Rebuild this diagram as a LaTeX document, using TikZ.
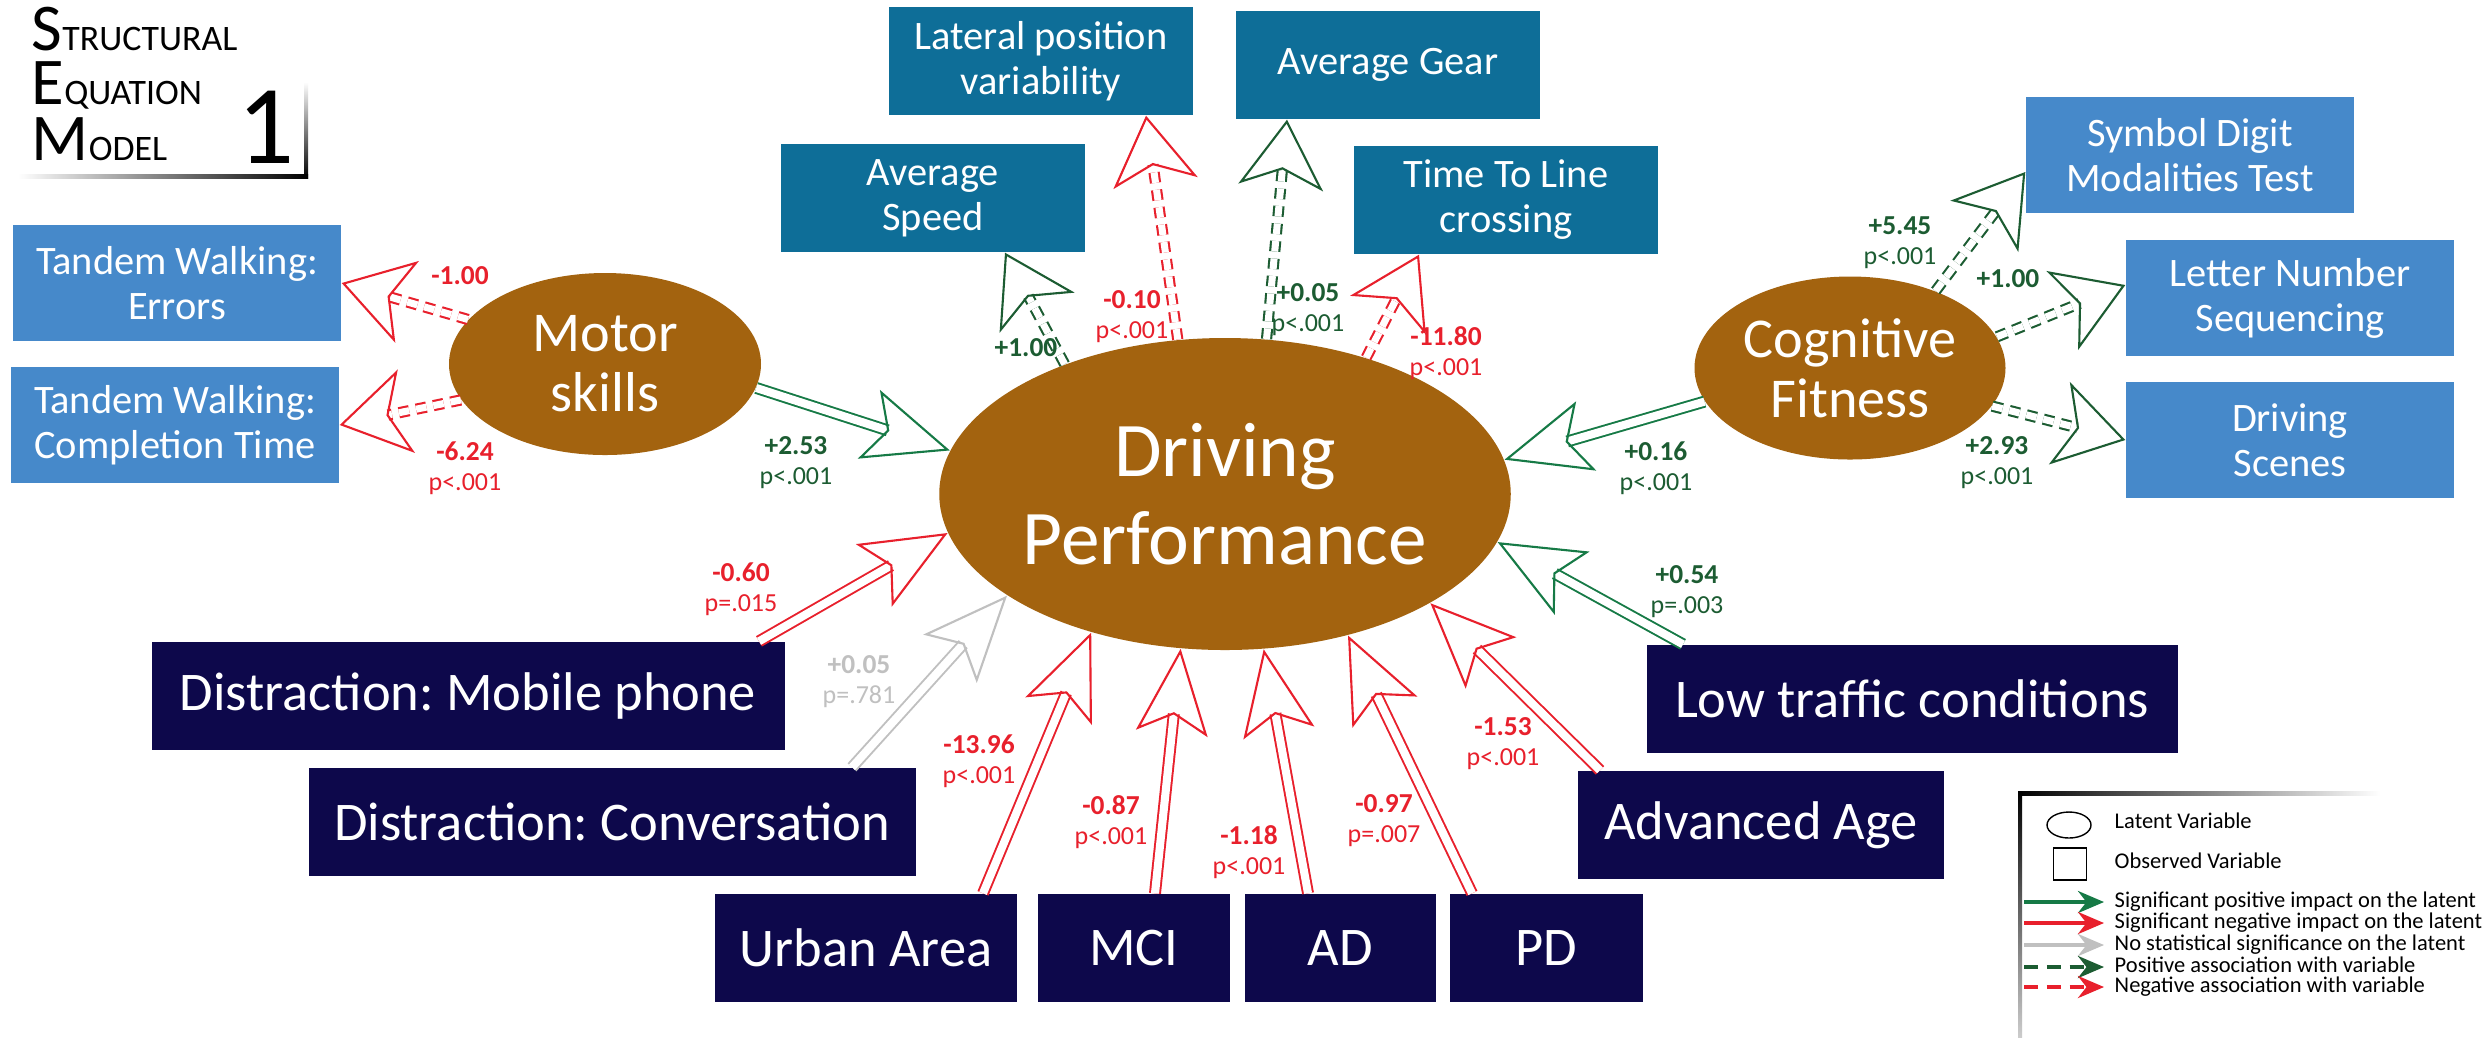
\documentclass[tikz,border=0pt]{standalone}
\usepackage{fontspec}
\setmainfont{Carlito}
\frenchspacing
\usetikzlibrary{shapes.geometric,arrows.meta}

\definecolor{latbrown}{RGB}{163,99,15}
\definecolor{obsblue}{RGB}{70,137,202}
\definecolor{obsteal}{RGB}{14,110,152}
\definecolor{obsnavy}{RGB}{13,8,75}
\definecolor{sgreen}{RGB}{22,122,70}
\definecolor{dgreen}{RGB}{28,92,50}
\definecolor{sred}{RGB}{232,32,44}
\definecolor{sgrey}{RGB}{192,192,192}

\newcommand{\cval}[2]{{\fontsize{7.8pt}{8.5pt}\selectfont\bfseries #1}\\#2}
\newcommand{\titleword}[2]{{\fontsize{19pt}{19pt}\selectfont #1}{\fontsize{10.2pt}{10pt}\selectfont #2}}

\tikzset{
  latent/.style={ellipse, fill=latbrown, text=white, inner sep=0pt, align=center,
    font=\fontsize{16pt}{17pt}\selectfont},
  obs/.style={rectangle, inner sep=0pt, text=white, align=center, minimum height=10.8mm},
  blueobs/.style={obs, fill=obsblue, minimum width=32.8mm, minimum height=11.6mm,
    font=\fontsize{11.5pt}{12.8pt}\selectfont},
  tealobs/.style={obs, fill=obsteal, minimum width=30.4mm,
    font=\fontsize{11.5pt}{12.8pt}\selectfont},
  darkobs/.style={obs, fill=obsnavy, font=\fontsize{15.5pt}{16pt}\selectfont},
  impact/.style={double=white, double distance=2.3pt, line width=.55pt,
    -{Stealth[open, length=8.5mm, width=7.2mm, inset=1.9mm, line width=.6pt 0 0]}},
  posimpact/.style={impact, draw=sgreen},
  negimpact/.style={impact, draw=sred},
  nullimpact/.style={impact, draw=sgrey},
  assoc/.style={dash pattern=on 3pt off 2pt, double=white, double distance=2pt, line width=.6pt,
    -{Stealth[open, length=6.8mm, width=8.5mm, inset=1.8mm, line width=.6pt 0 0]}},
  posassoc/.style={assoc, draw=dgreen},
  negassoc/.style={assoc, draw=sred},
  coef/.style={align=center, inner sep=0pt, font=\fontsize{7.4pt}{8.5pt}\selectfont},
  titleline/.style={anchor=base west, inner sep=0pt, text height=12.4pt, text depth=0pt},
  keytext/.style={anchor=west, inner sep=0pt, text height=4.4pt, text depth=1.2pt,
    font=\fontsize{6.4pt}{7pt}\selectfont},
  keyarrow/.style={line width=1.1pt, -{Stealth[length=2.6mm, width=2.2mm]}}
}

\begin{document}
\begin{tikzpicture}[x=0.1mm, y=-0.1mm]
\useasboundingbox (0,0) rectangle (2489,1037);
\fill[white] (0,0) rectangle (2489,1037);

% title
\node[titleline] (tS) at (31,50) {\titleword{S}{TRUCTURAL}};
\node[titleline] (tE) at (31,104) {\titleword{E}{QUATION}};
\node[titleline] (tM) at (31,160) {\titleword{M}{ODEL}};
\node[anchor=base, inner sep=0pt, font=\fontsize{32pt}{32pt}\selectfont] (tnum) at (266,163) {1};
\shade[top color=white, bottom color=black] (304,82) rectangle (308,178);
\shade[left color=white, right color=black] (18,174) rectangle (308,178);

% latent variables
\node[latent, minimum width=31.2mm, minimum height=18.2mm] (ms) at (605,364) {Motor\\skills};
\node[latent, minimum width=31.1mm, minimum height=18.3mm] (cf) at (1850,368) {Cognitive\\Fitness};
\node[latent, minimum width=55.6mm, minimum height=31.2mm,
  font=\fontsize{22pt}{25pt}\selectfont] (dp) at (1225,494) {Driving\\Performance};

% observed variables
\node[blueobs] (tw1) at (177,283) {Tandem Walking:\\Errors};
\node[blueobs] (tw2) at (175,425) {Tandem Walking:\\Completion Time};
\node[blueobs] (sdmt) at (2190,155) {Symbol Digit\\Modalities Test};
\node[blueobs] (lns) at (2290,298) {Letter Number\\Sequencing};
\node[blueobs] (ds) at (2290,440) {Driving\\Scenes};
\node[tealobs] (sp) at (933,198) {Average\\Speed};
\node[tealobs] (lp) at (1041,61) {Lateral position\\variability};
\node[tealobs] (ag) at (1388,65) {Average Gear};
\node[tealobs] (ttl) at (1506,200) {Time To Line\\crossing};
\node[darkobs, minimum width=63.3mm] (mob) at (468,696) {Distraction: Mobile phone};
\node[darkobs, minimum width=60.7mm] (conv) at (612,822) {Distraction: Conversation};
\node[darkobs, minimum width=30.2mm] (ua) at (866,948) {Urban Area};
\node[darkobs, minimum width=19.2mm] (mci) at (1134,948) {MCI};
\node[darkobs, minimum width=19.1mm] (ad) at (1340,948) {AD};
\node[darkobs, minimum width=19.3mm] (pd) at (1546,948) {PD};
\node[darkobs, minimum width=36.6mm] (aa) at (1761,825) {Advanced Age};
\node[darkobs, minimum width=53.1mm] (lt) at (1912,699) {Low traffic conditions};

% impacts on the latent
\draw[posimpact] (ms.-9) -- (dp.171);
\draw[posimpact] (cf.193) -- (dp.7);
\draw[posimpact] ([xshift=-22.9mm]lt.north) -- (dp.-10);
\draw[negimpact] ([xshift=29.1mm]mob.north) -- (dp.188);
\draw[nullimpact] ([xshift=24mm]conv.north) -- (dp.205);
\draw[negimpact] ([xshift=11.7mm]ua.north) -- (dp.226);
\draw[negimpact] ([xshift=2.1mm]mci.north) -- (dp.254);
\draw[negimpact] ([xshift=-3.2mm]ad.north) -- (dp.284);
\draw[negimpact] ([xshift=-7.4mm]pd.north) -- (dp.311);
\draw[negimpact] ([xshift=-16.1mm]aa.north) -- (dp.332);

% associations with the variables
\draw[negassoc] (ms.162) -- (tw1.east);
\draw[negassoc] (ms.194) -- (tw2.east);
\draw[posassoc] (dp.141) -- ([xshift=7.2mm]sp.south);
\draw[negassoc] (dp.107) -- ([xshift=10.5mm]lp.south);
\draw[posassoc] (dp.75) -- ([xshift=-10.1mm]ag.south);
\draw[negassoc] (dp.44) -- ([xshift=-8.7mm]ttl.south);
\draw[posassoc] (cf.42) -- ([yshift=-1.7mm]sdmt.west);
\draw[posassoc] (cf.12) -- ([yshift=1.3mm]lns.west);
\draw[posassoc] (cf.-15) -- (ds.west);

% coefficients
\node[coef, text=sred] (c1) at (460,290) {\cval{-1.00}{}};
\node[coef, text=sred] (c2) at (465,468) {\cval{-6.24}{p<.001}};
\node[coef, text=dgreen] (c3) at (796,463) {\cval{+2.53}{p<.001}};
\node[coef, text=dgreen] (c4) at (1026,362) {\cval{+1.00}{}};
\node[coef, text=sred] (c5) at (1132,317) {\cval{-0.10}{p<.001}};
\node[coef, text=dgreen] (c6) at (1308,310) {\cval{+0.05}{p<.001}};
\node[coef, text=sred] (c7) at (1446,353) {\cval{-11.80}{p<.001}};
\node[coef, text=dgreen] (c8) at (1900,243) {\cval{+5.45}{p<.001}};
\node[coef, text=dgreen] (c9) at (2008,293) {\cval{+1.00}{}};
\node[coef, text=dgreen] (c10) at (1997,463) {\cval{+2.93}{p<.001}};
\node[coef, text=dgreen] (c11) at (1656,468) {\cval{+0.16}{p<.001}};
\node[coef, text=dgreen] (c12) at (1687,592) {\cval{+0.54}{p=.003}};
\node[coef, text=sred] (c13) at (741,589) {\cval{-0.60}{p=.015}};
\node[coef, text=sgrey] (c14) at (859,682) {\cval{+0.05}{p=.781}};
\node[coef, text=sred] (c15) at (979,761) {\cval{-13.96}{p<.001}};
\node[coef, text=sred] (c16) at (1111,822) {\cval{-0.87}{p<.001}};
\node[coef, text=sred] (c17) at (1249,852) {\cval{-1.18}{p<.001}};
\node[coef, text=sred] (c18) at (1384,821) {\cval{-0.97}{p=.007}};
\node[coef, text=sred] (c19) at (1503,744) {\cval{-1.53}{p<.001}};

% legend
\shade[left color=black, right color=white] (2018,791) rectangle (2380,795);
\shade[top color=black, bottom color=gray!40] (2018,791) rectangle (2022,1037);
\node[draw, ellipse, minimum width=4.4mm, minimum height=2.6mm, inner sep=0pt] (klat) at (2069,825) {};
\node[draw, rectangle, minimum width=3.3mm, minimum height=3.2mm, inner sep=0pt] (kobs) at (2070,864) {};
\coordinate (ka1) at (2024,902); \coordinate (kb1) at (2104,902);
\coordinate (ka2) at (2024,923); \coordinate (kb2) at (2104,923);
\coordinate (ka3) at (2024,945); \coordinate (kb3) at (2104,945);
\coordinate (ka4) at (2024,967); \coordinate (kb4) at (2104,967);
\coordinate (ka5) at (2024,987); \coordinate (kb5) at (2104,987);
\draw[keyarrow, sgreen] (ka1) -- (kb1);
\draw[keyarrow, sred] (ka2) -- (kb2);
\draw[keyarrow, sgrey] (ka3) -- (kb3);
\draw[keyarrow, dgreen, dash pattern=on 4pt off 2.5pt] (ka4) -- (kb4);
\draw[keyarrow, sred, dash pattern=on 4pt off 2.5pt] (ka5) -- (kb5);
\node[keytext] (k0) at (2114,823) {Latent Variable};
\node[keytext] (k6) at (2114,863) {Observed Variable};
\node[keytext] (k1) at (2114,902) {Significant positive impact on the latent};
\node[keytext] (k2) at (2114,923) {Significant negative impact on the latent};
\node[keytext] (k3) at (2114,945) {No statistical significance on the latent};
\node[keytext] (k4) at (2114,967) {Positive association with variable};
\node[keytext] (k5) at (2114,987) {Negative association with variable};
\end{tikzpicture}
\end{document}
